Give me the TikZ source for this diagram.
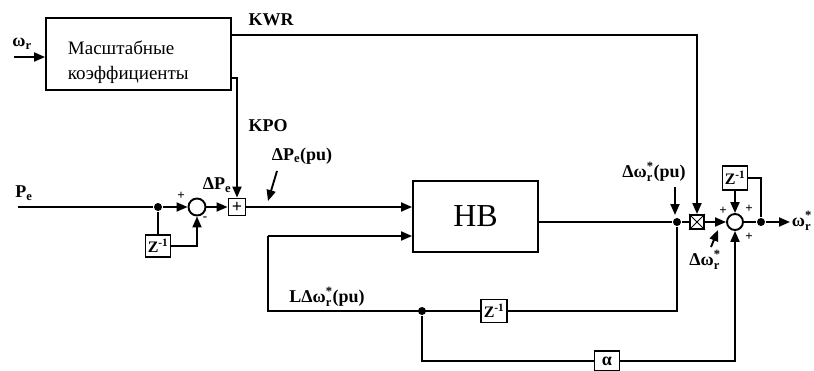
\documentclass[tikz,border=0pt]{standalone}
\usepackage{fontspec}
\usepackage{amsmath}
\setmainfont{Liberation Serif}
\usetikzlibrary{arrows.meta}
\begin{document}
\begin{tikzpicture}[x=1pt,y=-1pt, line width=1.9pt,
  arr/.style={-{Triangle[length=11pt,width=9pt]}},
  blk/.style={draw, rectangle, inner sep=0pt},
  sumc/.style={draw, circle, minimum size=17pt, inner sep=0pt},
  dot/.style={circle, fill, inner sep=0pt, minimum size=8pt},
  lbl/.style={font=\fontsize{18}{20}\selectfont\bfseries, inner sep=0pt},
  zlbl/.style={font=\fontsize{16}{18}\selectfont\bfseries},
  sgn/.style={font=\fontsize{13}{14}\selectfont\bfseries, inner sep=0pt}]
\useasboundingbox (0,0) rectangle (814,370);

% scale block
\node[blk, minimum width=185pt, minimum height=72pt] (sc) at (138.5,54) {};
\node[font=\fontsize{19}{25}\selectfont, align=left, anchor=west, inner sep=0pt] (sct) at (67,62) {Масштабные\\коэффициенты};
\coordinate (win) at (14,57);
\draw[arr] (win) -- (sc.west |- win);
\node[lbl] (wl) at (22,44) {$\text{ω}_{\text{r}}$};
\coordinate (kwy) at (0,35);
\coordinate (kpy) at (0,78);

% main chain
\coordinate (pe) at (18,207);
\node[dot] (j1) at (158,207) {};
\node[sumc] (s1) at (197,207) {};
\node[blk, minimum width=25pt, minimum height=22pt, zlbl] (z1) at (158,246) {Z$^{\text{-1}}$};
\node[blk, minimum size=17pt, font=\fontsize{18}{18}\selectfont\bfseries] (pb) at (237,207) {+};
\node[blk, minimum width=125pt, minimum height=71pt, font=\fontsize{32}{36}\selectfont] (hb) at (475.5,216.5) {HB};
\node[dot] (j2) at (677,222) {};
\node[blk, minimum size=14pt] (m) at (697,222) {};
\draw[line width=1pt] (m.north west) -- (m.south east) (m.north east) -- (m.south west);
\node[sumc, minimum size=16pt] (s2) at (735,222) {};
\node[blk, minimum width=25pt, minimum height=24pt, zlbl] (z2) at (735,178) {Z$^{\text{-1}}$};
\node[dot] (j3) at (761,222) {};
\coordinate (out) at (790,222);
\node[blk, minimum width=26pt, minimum height=23pt, zlbl] (z3) at (494,311) {Z$^{\text{-1}}$};
\node[dot] (j4) at (422,311) {};
\node[blk, minimum width=25pt, minimum height=20pt, font=\fontsize{18}{18}\selectfont\bfseries] (al) at (607,361) {α};
\coordinate (c1) at (268,311);
\coordinate (c2) at (268,236);

% connectors
\draw[arr] (sc.east |- kwy) -| (m.north);
\draw[arr] (sc.east |- kpy) -- ++(6,0) -| (pb.north);
\draw (pe) -- (j1);
\draw[arr] (j1) -- (s1);
\draw (j1) -- (z1);
\draw[arr] (z1.east) -| (s1.south);
\draw[arr] (s1) -- (pb);
\draw[arr] (pb) -- (hb.west |- pb);
\draw (hb.east |- j2) -- (j2);
\draw (j2) -- (m);
\draw[arr] (m) -- (s2);
\draw[arr] (z2) -- (s2);
\draw (s2) -- (j3);
\draw[arr] (j3) -- (out);
\draw (j3) |- (z2.east);
\draw (j2) |- (z3.east);
\draw (z3.west) -- (c1) -- (c2);
\draw[arr] (c2) -- (hb.west |- c2);
\draw (j4) |- (al.west);
\draw[arr] (al.east) -| (s2.south);

% labels
\node[lbl] (lpe) at (24,193) {$\text{P}_{\text{e}}$};
\node[sgn] (p1) at (181,196) {+};
\node[sgn] (p2) at (205,219) {-};
\node[lbl] (ldp) at (217,185) {$\text{ΔP}_{\text{e}}$};
\node[lbl] (ldpu) at (302,156) {$\text{ΔP}_{\text{e}}$(pu)};
\coordinate (a1s) at (277,171);
\coordinate (a1e) at (268,201);
\draw[arr] (a1s) -- (a1e);
\node[lbl] (lkpo) at (268,126) {KPO};
\node[lbl] (lkwr) at (271,20) {KWR};
\node[lbl] (ldw) at (654,172) {$\text{Δω}^{\text{*}}_{\text{r}}$(pu)};
\coordinate (a2s) at (675,187);
\coordinate (a2e) at (675,215);
\draw[arr] (a2s) -- (a2e);
\node[lbl] (ldw2) at (705,260) {$\text{Δω}^{\text{*}}_{\text{r}}$};
\coordinate (a3s) at (711,247);
\coordinate (a3e) at (718,230);
\draw[arr] (a3s) -- (a3e);
\node[lbl] (lldw) at (327,297) {LΔ$\text{ω}^{\text{*}}_{\text{r}}$(pu)};
\node[lbl, anchor=west] (lout) at (791,221) {$\text{ω}^{\text{*}}_{\text{r}}$};
\node[sgn] (p3) at (723,211) {+};
\node[sgn] (p4) at (749,209) {+};
\node[sgn] (p5) at (749,237) {+};
\end{tikzpicture}
\end{document}
